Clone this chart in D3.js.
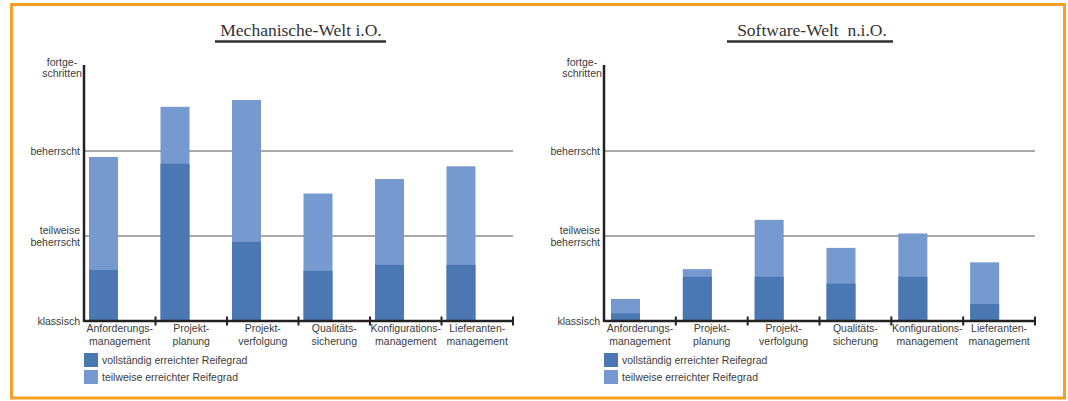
<!DOCTYPE html>
<html>
<head>
<meta charset="utf-8">
<script src="https://cdn.jsdelivr.net/npm/d3@7"></script>
<style>
  html, body { margin: 0; padding: 0; background: #fff; }
  svg { display: block; }
</style>
</head>
<body>
<svg id="chart" width="1068" height="401"></svg>
<script>
// Process areas shown on both charts
const categories = [
  ["Anforderungs-", "management"],
  ["Projekt-", "planung"],
  ["Projekt-", "verfolgung"],
  ["Qualitäts-", "sicherung"],
  ["Konfigurations-", "management"],
  ["Lieferanten-", "management"]
];

// Maturity levels on the vertical axis (0 = klassisch … 3 = fortgeschritten)
const levelLabels = [
  ["klassisch"],
  ["teilweise", "beherrscht"],
  ["beherrscht"],
  ["fortge-", "schritten"]
];

// Mechanical world: fully reached and total (fully + partially) maturity
const mechFull  = [0.60, 1.85, 0.93, 0.59, 0.66, 0.66];
const mechTotal = [1.93, 2.52, 2.60, 1.50, 1.67, 1.82];

// Software world: fully reached and total maturity
const softFull  = [0.09, 0.52, 0.52, 0.44, 0.52, 0.20];
const softTotal = [0.26, 0.61, 1.19, 0.86, 1.03, 0.69];

const legendLabels = ["vollständig erreichter Reifegrad", "teilweise erreichter Reifegrad"];
const titles = ["Mechanische-Welt i.O.", "Software-Welt  n.i.O."];

const colDark = "#4b77b2";
const colLight = "#7699d0";
const textCol = "#3c3c3c";
const sans = "'Liberation Sans', Arial, Helvetica, sans-serif";
const serif = "'Liberation Serif', 'Times New Roman', serif";

const svg = d3.select("#chart");

// Orange frame
svg.append("rect")
  .attr("x", 11.5).attr("y", 4.5)
  .attr("width", 1053).attr("height", 393.5)
  .attr("fill", "#fff")
  .attr("stroke", "#f5a024").attr("stroke-width", 3);

function drawPanel(opt) {
  const g = svg.append("g");
  const keys = categories.map((c, i) => i);

  const x = d3.scaleBand().domain(keys).range([opt.x0, opt.x1]).paddingInner(0).paddingOuter(0);
  const y = d3.scaleLinear().domain([0, 3]).range([opt.base, opt.base - 3 * opt.step]);

  // Title with underline
  g.append("text")
    .attr("x", opt.titleX).attr("y", 36)
    .attr("text-anchor", "middle")
    .attr("font-family", serif).attr("font-size", 17.5)
    .attr("fill", "#333")
    .style("white-space", "pre")
    .text(opt.title);
  g.append("line")
    .attr("x1", opt.ulX0).attr("x2", opt.ulX1)
    .attr("y1", 41.5).attr("y2", 41.5)
    .attr("stroke", "#333").attr("stroke-width", 2.5);

  // Reference lines for level 1 and 2
  [1, 2].forEach(v => {
    g.append("line")
      .attr("x1", opt.x0).attr("x2", opt.x1)
      .attr("y1", y(v)).attr("y2", y(v))
      .attr("stroke", "#555").attr("stroke-width", 1.2);
  });

  // Bars: total (light) then fully reached part (dark) on top
  const bars = g.append("g");
  bars.selectAll("rect.total").data(keys).join("rect")
    .attr("class", "total")
    .attr("x", i => x(i) + opt.barOff)
    .attr("width", opt.barW)
    .attr("y", i => y(opt.total[i]))
    .attr("height", i => y(0) - y(opt.total[i]))
    .attr("fill", colLight);
  bars.selectAll("rect.full").data(keys).join("rect")
    .attr("class", "full")
    .attr("x", i => x(i) + opt.barOff)
    .attr("width", opt.barW)
    .attr("y", i => y(opt.full[i]))
    .attr("height", i => y(0) - y(opt.full[i]))
    .attr("fill", colDark);

  // Y axis line
  g.append("line")
    .attr("x1", opt.x0).attr("x2", opt.x0)
    .attr("y1", y(3) - 1).attr("y2", y(0) + 1)
    .attr("stroke", "#222").attr("stroke-width", 2.5);

  // X axis with ticks at band boundaries
  const xAxis = g.append("g").attr("transform", `translate(0,${y(0)})`);
  xAxis.append("line")
    .attr("x1", opt.x0).attr("x2", opt.x1)
    .attr("stroke", "#222").attr("stroke-width", 2.5);
  xAxis.selectAll("line.tick").data(keys).join("line")
    .attr("class", "tick")
    .attr("x1", i => x(i) + x.bandwidth()).attr("x2", i => x(i) + x.bandwidth())
    .attr("y1", -4.5).attr("y2", 4.5)
    .attr("stroke", "#222").attr("stroke-width", 2);

  // Category labels
  xAxis.selectAll("text").data(keys).join("text")
    .attr("x", i => x(i) + x.bandwidth() / 2)
    .attr("y", 11)
    .attr("text-anchor", "middle")
    .attr("font-family", sans).attr("font-size", 10.5)
    .attr("fill", textCol)
    .each(function(i) {
      const el = d3.select(this);
      categories[i].forEach((line, k) => {
        el.append("tspan").attr("x", x(i) + x.bandwidth() / 2).attr("dy", k === 0 ? 0 : 12.5).text(line);
      });
    });

  // Level labels
  levelLabels.forEach((lines, v) => {
    const cy = y(v);
    const n = lines.length;
    const txt = g.append("text")
      .attr("font-family", sans).attr("font-size", 10.5)
      .attr("fill", textCol);
    if (v === 3) {
      txt.attr("text-anchor", "middle");
      lines.forEach((line, k) => {
        txt.append("tspan").attr("x", opt.x0 - 22).attr("y", cy + k * 11).text(line);
      });
    } else {
      txt.attr("text-anchor", "end");
      lines.forEach((line, k) => {
        txt.append("tspan").attr("x", opt.x0 - 4)
          .attr("y", cy + 4 + (k - (n - 1) / 2) * 12).text(line);
      });
    }
  });

  // Legend
  const lg = g.append("g");
  [colDark, colLight].forEach((c, k) => {
    lg.append("rect")
      .attr("x", opt.x0).attr("y", 353 + k * 17)
      .attr("width", 14).attr("height", 14)
      .attr("fill", c);
    lg.append("text")
      .attr("x", opt.x0 + 18).attr("y", 364 + k * 17)
      .attr("font-family", sans).attr("font-size", 10.5)
      .attr("fill", textCol)
      .text(legendLabels[k]);
  });
}

drawPanel({
  title: titles[0], titleX: 301, ulX0: 215, ulX1: 386,
  x0: 84, x1: 513, base: 321, step: 85,
  barOff: 5, barW: 29,
  full: mechFull, total: mechTotal
});

drawPanel({
  title: titles[1], titleX: 812, ulX0: 727, ulX1: 893,
  x0: 604, x1: 1035, base: 321, step: 85,
  barOff: 7, barW: 29,
  full: softFull, total: softTotal
});
</script>
</body>
</html>
